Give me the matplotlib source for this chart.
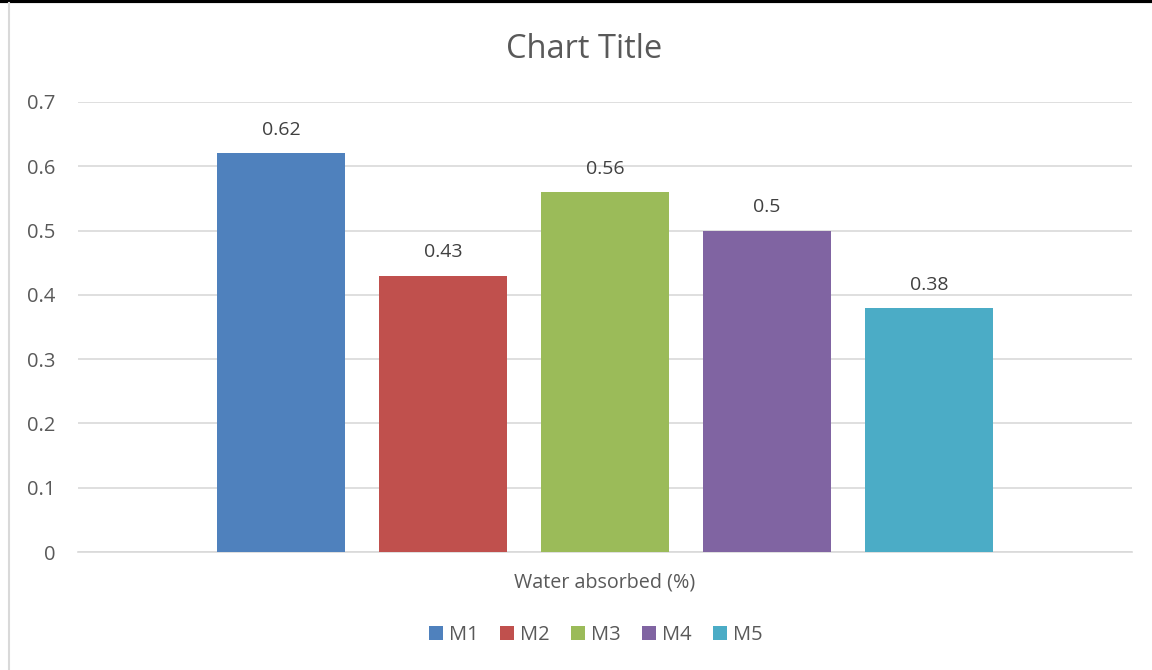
import numpy as np
import matplotlib.pyplot as plt
from matplotlib.lines import Line2D

series = ['M1', 'M2', 'M3', 'M4', 'M5']
values = [0.62, 0.43, 0.56, 0.50, 0.38]
colors = ['#4f81bd', '#c0504d', '#9bbb59', '#8064a2', '#4bacc6']
category = 'Water absorbed (%)'

plt.rcParams['font.family'] = ['Open Sans', 'DejaVu Sans']
text_col = '#595959'

fig = plt.figure(figsize=(11.52, 6.70), dpi=100)
ax = fig.add_axes([0.0677, 0.1761, 0.9149, 0.6717])

step = 0.1537
width = 0.1214
for i, (name, v, c) in enumerate(zip(series, values, colors)):
    x = (i - 2) * step
    ax.bar(x, v, width=width, color=c, label=name, zorder=3)
    ax.text(x, v + 0.022, f'{v:g}', ha='center', va='bottom', fontsize=14, color='#404040')

ax.set_xlim(-0.5, 0.5)
ax.set_ylim(0, 0.7)
ax.set_yticks(np.arange(0, 0.71, 0.1))
ax.set_yticklabels(['0'] + [f'{t:.1f}' for t in np.arange(0.1, 0.71, 0.1)])
ax.set_xticks([0])
ax.set_xticklabels([category])
ax.tick_params(axis='both', length=0, labelsize=14.5, colors=text_col, pad=16)
ax.tick_params(axis='x', labelsize=14.2, pad=15)
ax.grid(axis='y', color='#d9d9d9', linewidth=1.2, zorder=0)
for s in ['top', 'right', 'left']:
    ax.spines[s].set_visible(False)
ax.spines['bottom'].set_color('#d9d9d9')
ax.spines['bottom'].set_linewidth(1.2)

fig.text(0.507, 0.926, 'Chart Title', ha='center', va='center', fontsize=23.5, color=text_col)

fig.legend(loc='center', bbox_to_anchor=(0.517, 0.052), ncol=5, frameon=False,
           fontsize=14.5, handlelength=0.7, handleheight=0.7, handletextpad=0.3,
           columnspacing=1.05, labelcolor=text_col)

# outer frame bits
fig.add_artist(Line2D([0, 1], [0.998, 0.998], color='black', linewidth=3, transform=fig.transFigure))
fig.add_artist(Line2D([0.0075, 0.0075], [0, 0.996], color='#d9d9d9', linewidth=1.5, transform=fig.transFigure))

fig.savefig('out.png', dpi=100)
